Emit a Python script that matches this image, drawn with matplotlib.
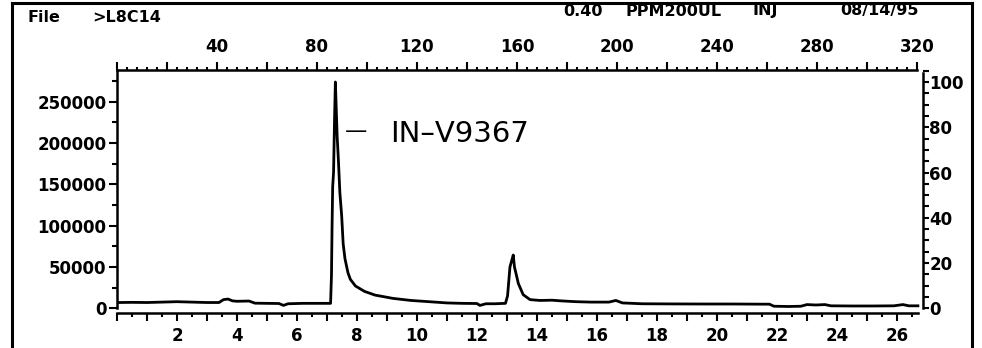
import matplotlib
matplotlib.use("Agg")
import matplotlib.pyplot as plt
from matplotlib.ticker import MultipleLocator, FuncFormatter
from matplotlib.lines import Line2D

# ---- data: retention time (min) vs abundance ----
time_min = [0.05, 0.5, 1.0, 1.5, 2.0, 2.5, 3.0, 3.4, 3.55, 3.7, 3.85, 4.0, 4.4, 4.6,
            5.0, 5.4, 5.55, 5.7, 6.2, 6.7, 7.12,
            7.15, 7.17, 7.19, 7.22, 7.25, 7.28, 7.31, 7.34, 7.38, 7.43, 7.49, 7.54,
            7.60, 7.70, 7.78, 7.95, 8.25, 8.6, 9.2, 9.8, 10.4, 11.0, 11.5, 12.0,
            12.1, 12.3, 12.6, 12.95,
            13.02, 13.1, 13.16, 13.21, 13.25, 13.29, 13.38, 13.54, 13.77, 14.1,
            14.5, 14.8, 15.3, 15.8, 16.4, 16.63, 16.85, 17.5, 18.5, 19.5, 20.5,
            21.5, 21.75, 21.9, 22.4, 22.8, 23.0, 23.3, 23.6, 23.8, 24.5, 25.2,
            25.9, 26.2, 26.4, 26.7]
abundance = [7000, 7200, 7000, 7500, 8000, 7500, 7000, 7000, 10500, 11200, 9000,
             8500, 8800, 6200, 6000, 5800, 3500, 5500, 6000, 6000, 6000,
             40000, 100000, 147000, 165000, 225000, 274000, 240000, 208000,
             180000, 140000, 112000, 78000, 60000, 43000, 35000, 27000, 20500,
             16000, 12000, 9500, 8000, 6500, 6000, 5800,
             3500, 5500, 5500, 6000,
             15000, 50000, 58000, 64500, 50000, 44000, 30000, 16500, 10500, 9500,
             9800, 9000, 8000, 7500, 7500, 9500, 6500, 5500, 5300, 5200, 5200,
             5000, 5000, 2500, 2200, 2500, 4500, 4000, 4500, 3000, 2800, 2800,
             3000, 4500, 3000, 3000]

peak_label = "IN\u2013V9367"
header_left = ["File", ">L8C14"]
header_right = ["0.40", "PPM200UL", "INJ", "08/14/95"]

scans_per_min = 12
full_scale = 274000          # abundance equal to 100 % on the right axis
left_ticks = [0, 50000, 100000, 150000, 200000, 250000]

# ---- figure ----
plt.rcParams['font.family'] = ['DejaVu Sans']
plt.rcParams['font.weight'] = 'bold'

W, H = 982, 348
fig = plt.figure(figsize=(W / 100, H / 100), dpi=100)


def fx(px):
    return px / W


def fy(py):
    return 1 - py / H


ax = fig.add_axes([fx(117), fy(313), fx(923) - fx(117), fy(70) - fy(313)])
ax.patch.set_alpha(0)
y0 = -(313 - 308.3) / 41.3 * 50000
y1 = (308.3 - 70) / 41.3 * 50000
xmax = 26.87
ax.set_xlim(0, xmax)
ax.set_ylim(y0, y1)

ax.plot(time_min, abundance, color='black', lw=2.0, solid_joinstyle='round')

LW = 1.8
for s in ['top', 'right']:
    ax.spines[s].set_visible(False)
ax.spines['left'].set_linewidth(LW)
ax.spines['bottom'].set_linewidth(LW)
ax.spines['left'].set_bounds(0, y1)
ax.spines['bottom'].set_bounds(0, 26.7)

# left axis
ax.yaxis.set_major_locator(plt.FixedLocator(left_ticks))
ax.yaxis.set_minor_locator(MultipleLocator(25000))
ax.yaxis.set_major_formatter(FuncFormatter(lambda v, p: f"{int(round(v))}"))
ax.tick_params(axis='y', which='major', direction='out', length=6, width=1.5,
               pad=1.5, labelsize=12)
ax.tick_params(axis='y', which='minor', direction='out', length=3.5, width=1.5)

# bottom axis (minutes)
ax.xaxis.set_major_locator(MultipleLocator(1))
ax.xaxis.set_minor_locator(MultipleLocator(0.5))
ax.xaxis.set_major_formatter(FuncFormatter(
    lambda v, p: f"{int(round(v))}" if round(v) > 0 and round(v) % 2 == 0 else ""))
ax.tick_params(axis='x', which='major', direction='out', length=6, width=1.5,
               pad=4, labelsize=12)
ax.tick_params(axis='x', which='minor', direction='out', length=3, width=1.5)

# top axis (scan number)
axt = ax.twiny()
axt.set_xlim(0, xmax * scans_per_min)
for s in ['bottom', 'left', 'right']:
    axt.spines[s].set_visible(False)
axt.spines['top'].set_linewidth(LW)
axt.spines['top'].set_bounds(0, 320)
axt.xaxis.set_major_locator(MultipleLocator(20))
axt.xaxis.set_minor_locator(MultipleLocator(4))
axt.xaxis.set_major_formatter(FuncFormatter(
    lambda v, p: f"{int(round(v))}" if round(v) > 0 and round(v) % 40 == 0 else ""))
axt.tick_params(axis='x', which='major', direction='out', length=6, width=1.5,
                pad=4, labelsize=12)
axt.tick_params(axis='x', which='minor', direction='out', length=2.5, width=1.5)

# right axis (percent)
axr = ax.twinx()
axr.set_ylim(y0 / full_scale * 100, y1 / full_scale * 100)
for s in ['bottom', 'left', 'top']:
    axr.spines[s].set_visible(False)
axr.spines['right'].set_linewidth(LW)
axr.spines['right'].set_bounds(0, 104)
axr.yaxis.set_major_locator(MultipleLocator(20))
axr.yaxis.set_minor_locator(MultipleLocator(5))
axr.yaxis.set_major_formatter(FuncFormatter(lambda v, p: f"{int(round(v))}"))
axr.tick_params(axis='y', which='major', direction='out', length=4, width=1.5,
                pad=0.5, labelsize=12)
axr.tick_params(axis='y', which='minor', direction='out', length=4, width=1.5)

# peak annotation
ax.text(7.6, 214600, "\u2014", ha='left', va='center', fontsize=16,
        fontweight='normal', color='black')
ax.text(9.1, 201300, peak_label, ha='left', va='baseline', fontsize=21,
        fontweight='normal', color='black')

# header texts
hl_centers = [43.5, 126.5]
for word, cx in zip(header_left, hl_centers):
    fig.text(fx(cx), fy(17.5), word, ha='center', va='center', fontsize=11.5)
hr_centers = [583, 673.5, 765, 879.5]
for word, cx in zip(header_right, hr_centers):
    fig.text(fx(cx), fy(11), word, ha='center', va='center', fontsize=11.5)

# page frame
frame_kw = dict(color='black', lw=2.2, transform=fig.transFigure)
fig.add_artist(Line2D([fx(12), fx(972)], [fy(2.5), fy(2.5)], **frame_kw))
fig.add_artist(Line2D([fx(12), fx(12)], [fy(2.5), 0], **frame_kw))
fig.add_artist(Line2D([fx(972), fx(972)], [fy(2.5), 0], **frame_kw))

fig.savefig("out.png", dpi=100)
